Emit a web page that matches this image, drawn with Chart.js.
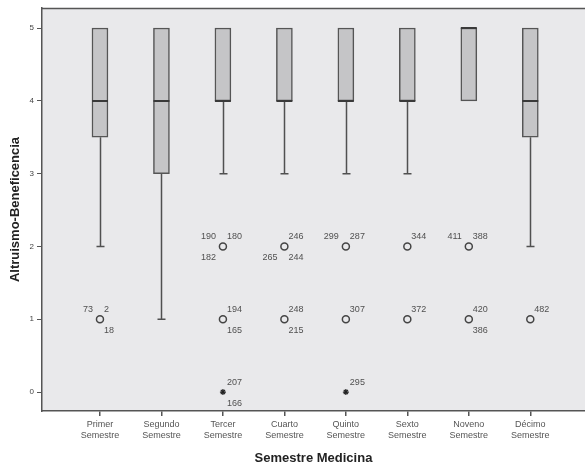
<!DOCTYPE html>
<html>
<head>
<meta charset="utf-8">
<script src="https://cdn.jsdelivr.net/npm/chart.js@4"></script>
<style>
  html, body { margin: 0; padding: 0; background: #fff; }
  #wrap { width: 585px; height: 467px; }
</style>
</head>
<body>
<div id="wrap"><canvas id="boxChart" width="585" height="467"></canvas></div>
<script>
// semestres y cajas (cuartiles)
const categories = [
  ['Primer', 'Semestre'], ['Segundo', 'Semestre'], ['Tercer', 'Semestre'], ['Cuarto', 'Semestre'],
  ['Quinto', 'Semestre'], ['Sexto', 'Semestre'], ['Noveno', 'Semestre'], ['Décimo', 'Semestre']
];
const q1 = [3.5, 3, 4, 4, 4, 4, 4, 3.5];
const median = [4, 4, 4, 4, 4, 4, 5, 4];
const q3 = [5, 5, 5, 5, 5, 5, 5, 5];
const whiskerLow = [2, 1, 3, 3, 3, 3, 4, 2];
const whiskerHigh = [5, 5, 5, 5, 5, 5, 5, 5];
const yTicks = [0, 1, 2, 3, 4, 5];

// atipicos (circulos) y extremos (estrellas)
const outlierSemester = [1, 3, 3, 4, 4, 5, 5, 6, 6, 7, 7, 8];
const outlierValue = [1, 2, 1, 2, 1, 2, 1, 2, 1, 2, 1, 1];
const outlierIds = [
  ['73', '2', '18'], ['190', '180', '182'], ['194', '165'], ['246', '265', '244'], ['248', '215'],
  ['299', '287'], ['307'], ['344'], ['372'], ['411', '388'], ['420', '386'], ['482']
];
const extremeSemester = [3, 5];
const extremeValue = [0, 0];
const extremeIds = [['207', '166'], ['295']];

// donde va cada etiqueta alrededor del punto
const outlierCorners = [
  ['tl', 'tr', 'br'], ['tl', 'tr', 'bl'], ['tr', 'br'], ['tr', 'bl', 'br'], ['tr', 'br'],
  ['tl', 'tr'], ['tr'], ['tr'], ['tr'], ['tl', 'tr'], ['tr', 'br'], ['tr']
];
const extremeCorners = [['tr', 'br'], ['tr']];

const FONT = 'Arial, "Liberation Sans", sans-serif';
const AXIS = '#555';

const boxData = categories.map((c, i) => ({ x: i + 1, y: [q1[i], q3[i]] }));
const outlierData = outlierSemester.map((s, i) => ({ x: s, y: outlierValue[i] }));
const extremeData = extremeSemester.map((s, i) => ({ x: s, y: extremeValue[i] }));

const boxPlugin = {
  id: 'boxPlugin',
  beforeDraw(chart) {
    const { ctx, chartArea: a } = chart;
    ctx.save();
    ctx.fillStyle = '#e9e9eb';
    ctx.fillRect(a.left, a.top, a.right - a.left, a.bottom - a.top);
    ctx.strokeStyle = AXIS;
    ctx.lineWidth = 1.5;
    ctx.beginPath();
    ctx.moveTo(a.left, a.top + 0.5);
    ctx.lineTo(a.right, a.top + 0.5);
    ctx.stroke();
    ctx.restore();
  },
  beforeDatasetsDraw(chart) {
    const { ctx, scales: { x, y } } = chart;
    ctx.save();
    ctx.strokeStyle = '#505050';
    ctx.lineWidth = 1.5;
    categories.forEach((c, i) => {
      const px = Math.round(x.getPixelForValue(i + 1)) + 0.5;
      [[q1[i], whiskerLow[i]], [q3[i], whiskerHigh[i]]].forEach(([from, to]) => {
        if (from === to) return;
        const y0 = y.getPixelForValue(from), y1 = y.getPixelForValue(to);
        ctx.beginPath();
        ctx.moveTo(px, y0);
        ctx.lineTo(px, y1);
        ctx.moveTo(px - 4, y1);
        ctx.lineTo(px + 4, y1);
        ctx.stroke();
      });
    });
    ctx.restore();
  },
  afterDatasetsDraw(chart) {
    const { ctx, scales: { x, y } } = chart;
    ctx.save();
    // medianas
    ctx.strokeStyle = '#3a3a3a';
    ctx.lineWidth = 2;
    categories.forEach((c, i) => {
      const px = x.getPixelForValue(i + 1);
      const py = Math.round(y.getPixelForValue(median[i]));
      ctx.beginPath();
      ctx.moveTo(px - 8, py);
      ctx.lineTo(px + 8, py);
      ctx.stroke();
    });
    // etiquetas de casos
    ctx.font = '9px ' + FONT;
    ctx.fillStyle = '#505050';
    ctx.textBaseline = 'middle';
    const put = (sx, sy, ids, corners) => {
      const px = x.getPixelForValue(sx), py = y.getPixelForValue(sy);
      ids.forEach((id, k) => {
        const c = corners[k];
        const left = c[1] === 'l';
        ctx.textAlign = left ? 'right' : 'left';
        const tx = left ? px - 7 : px + 4;
        const ty = c[0] === 't' ? py - 10 : py + 11;
        ctx.fillText(id, tx, ty);
      });
    };
    outlierSemester.forEach((s, i) => put(s, outlierValue[i], outlierIds[i], outlierCorners[i]));
    extremeSemester.forEach((s, i) => put(s, extremeValue[i], extremeIds[i], extremeCorners[i]));
    ctx.restore();
  }
};

const ctx = document.getElementById('boxChart').getContext('2d');
new Chart(ctx, {
  type: 'bar',
  data: {
    datasets: [
      {
        type: 'bar',
        data: boxData,
        backgroundColor: '#c5c5c7',
        borderColor: '#555',
        borderWidth: 1.5,
        borderSkipped: false,
        barThickness: 16
      },
      {
        type: 'scatter',
        data: outlierData,
        pointStyle: 'circle',
        pointRadius: 3.5,
        pointBorderWidth: 1.5,
        borderColor: '#444',
        backgroundColor: 'rgba(0,0,0,0)'
      },
      {
        type: 'scatter',
        data: extremeData,
        pointStyle: 'star',
        pointRadius: 3,
        pointBorderWidth: 1.2,
        borderColor: '#222',
        backgroundColor: '#222'
      }
    ]
  },
  options: {
    responsive: false,
    animation: false,
    layout: { autoPadding: false, padding: { top: 8, right: 0, left: 0, bottom: 0 } },
    plugins: {
      legend: { display: false },
      tooltip: { enabled: false }
    },
    scales: {
      x: {
        type: 'linear',
        min: 0.057,
        max: 8.89,
        offset: false,
        afterBuildTicks: s => { s.ticks = categories.map((c, i) => ({ value: i + 1 })); },
        afterFit: s => { s.height = 56; },
        grid: { offset: false, drawOnChartArea: false, drawTicks: true, tickLength: 5, color: AXIS, lineWidth: 1.5 },
        border: { display: true, color: AXIS, width: 1.5 },
        ticks: {
          autoSkip: false,
          maxRotation: 0,
          padding: 3,
          color: '#555',
          font: { family: FONT, size: 9, lineHeight: 1.2 },
          callback: v => categories[v - 1] || ''
        },
        title: {
          display: true,
          text: 'Semestre Medicina',
          color: '#222',
          font: { family: FONT, size: 13, weight: 'bold', lineHeight: 1.2 },
          padding: { top: 0, bottom: 1 }
        }
      },
      y: {
        min: -0.26,
        max: 5.275,
        afterBuildTicks: s => { s.ticks = yTicks.map(v => ({ value: v })); },
        afterFit: s => { s.width = 42; },
        grid: { drawOnChartArea: false, drawTicks: true, tickLength: 5, color: AXIS, lineWidth: 1 },
        border: { display: true, color: AXIS, width: 1.5 },
        ticks: {
          padding: 3,
          color: '#444',
          font: { family: FONT, size: 8 }
        },
        title: {
          display: true,
          text: 'Altruismo-Beneficencia',
          color: '#222',
          font: { family: FONT, size: 13, weight: 'bold', lineHeight: 1.2 },
          padding: { top: 8, bottom: 0 }
        }
      }
    }
  },
  plugins: [boxPlugin]
});
</script>
</body>
</html>
